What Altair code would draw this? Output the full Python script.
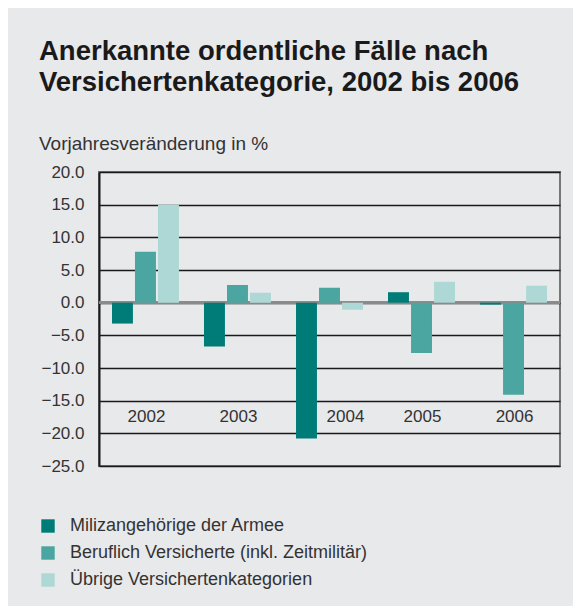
import altair as alt
import pandas as pd

years = ["2002", "2003", "2004", "2005", "2006"]
categories = [
    "Milizangehörige der Armee",
    "Beruflich Versicherte (inkl. Zeitmilitär)",
    "Übrige Versichertenkategorien",
]
miliz = [-3.2, -6.7, -20.8, 1.6, -0.3]
beruflich = [7.8, 2.7, 2.3, -7.7, -14.1]
uebrige = [15.0, 1.5, -1.1, 3.2, 2.6]
colors = ["#007c78", "#4ba5a1", "#aed8d5"]
y_ticks = [20, 15, 10, 5, 0, -5, -10, -15, -20, -25]

rows = []
for i, y in enumerate(years):
    for cat, series in zip(categories, [miliz, beruflich, uebrige]):
        rows.append({"Jahr": y, "Kategorie": cat, "Wert": series[i]})
df = pd.DataFrame(rows)
labels_df = pd.DataFrame({"Jahr": years})

FONT = "Liberation Sans"

x_scale = alt.Scale(domain=years, paddingInner=0.272, paddingOuter=0.141)
y_scale = alt.Scale(domain=[-25, 20], nice=False, zero=False)

y_axis = alt.Axis(values=y_ticks, format=".1f", title=None, ticks=False,
                  grid=True, labelOverlap=False,
                  domainColor="#1a1a1a", domainWidth=2,
                  gridColor="#1a1a1a", gridWidth=1.4,
                  labelFontSize=17, labelColor="#333333",
                  labelFont=FONT, labelPadding=15)

bars = alt.Chart(df).mark_bar().encode(
    x=alt.X("Jahr:N", scale=x_scale, axis=None),
    xOffset=alt.XOffset("Kategorie:N", sort=categories,
                        scale=alt.Scale(paddingInner=0.09, paddingOuter=0)),
    y=alt.Y("Wert:Q", scale=y_scale, axis=y_axis),
    color=alt.Color("Kategorie:N", sort=categories,
                    scale=alt.Scale(domain=categories, range=colors),
                    legend=alt.Legend(title=None, orient="none",
                                      legendX=-60, legendY=345,
                                      symbolType="square", symbolSize=180,
                                      symbolStrokeWidth=0,
                                      labelFontSize=18, labelFont=FONT,
                                      labelColor="#333333", labelOffset=13,
                                      rowPadding=9, padding=0)),
)

zero = alt.Chart(labels_df).mark_rule(color="#8a8a8a", strokeWidth=2.5).encode(
    y=alt.datum(0, scale=y_scale, axis=y_axis)
)

label_common = dict(fontSize=17, font=FONT, color="#333333", baseline="middle", align="center")
year_labels = alt.Chart(labels_df).transform_filter(
    alt.datum.Jahr != "2004"
).mark_text(dx=1, **label_common).encode(
    x=alt.X("Jahr:N", scale=x_scale, axis=None),
    y=alt.datum(-17.5, scale=y_scale, axis=y_axis),
    text="Jahr:N",
)
year_label_2004 = alt.Chart(labels_df).transform_filter(
    alt.datum.Jahr == "2004"
).mark_text(dx=16, **label_common).encode(
    x=alt.X("Jahr:N", scale=x_scale, axis=None),
    y=alt.datum(-17.5, scale=y_scale, axis=y_axis),
    text="Jahr:N",
)

chart = alt.layer(zero, bars, year_labels, year_label_2004).properties(
    width=461,
    height=294,
    background="#e8e9eb",
    autosize=alt.AutoSizeParams(type="none"),
    padding={"left": 91, "top": 164, "right": 13, "bottom": 140},
    title=alt.TitleParams(
        text=["Anerkannte ordentliche Fälle nach", "Versichertenkategorie, 2002 bis 2006"],
        subtitle="Vorjahresveränderung in %",
        anchor="start", frame="group", dx=-60,
        font=FONT, fontSize=27.5, fontWeight="bold", color="#1a1a1a",
        lineHeight=31,
        subtitleFont=FONT, subtitleFontSize=19, subtitleColor="#333333",
        subtitlePadding=39, offset=9,
    ),
).configure_view(stroke="#777777", strokeWidth=2).configure_legend(
    labelLimit=400
)

chart.save("out.html", embed_options={"renderer": "svg", "actions": False})
